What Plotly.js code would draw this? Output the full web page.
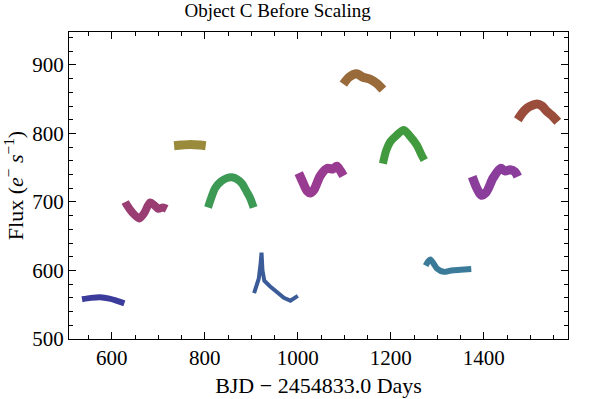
<!DOCTYPE html>
<html>
<head>
<meta charset="utf-8">
<script src="https://cdn.plot.ly/plotly-3.0.1.min.js"></script>
<style>
  html, body { margin: 0; padding: 0; background: #fff; }
  #flux-chart { width: 600px; height: 399px; }
</style>
</head>
<body>
<div id="flux-chart"></div>
<script>
// Light curve segments (BJD - 2454833.0, flux e-/s)
var days1 = [536, 555, 575, 595, 610, 627];
var flux1 = [558, 560, 561, 559, 556, 552];

var days2 = [629, 632, 645, 659, 670, 682, 690, 700, 710, 718];
var flux2 = [700, 696, 684, 676, 684, 699, 696, 690, 692, 690];

var days3 = [734, 750, 770, 790, 802];
var flux3 = [782, 783, 784, 783, 782];

var days4 = [807, 815, 822, 835, 848, 858, 870, 880, 890, 898, 905];
var flux4 = [692, 708, 720, 730, 735, 736, 733, 727, 715, 705, 692];

var days5 = [906, 912, 916, 920, 922, 924, 928, 940, 955, 970, 984, 1000];
var flux5 = [567, 578, 588, 610, 626, 600, 585, 577, 568, 560, 556, 563];

var days6 = [1002, 1010, 1020, 1027, 1035, 1048, 1063, 1075, 1084, 1092, 1098];
var flux6 = [742, 730, 716, 713, 718, 738, 749, 748, 752, 745, 738];

var days7 = [1098, 1110, 1127, 1140, 1156, 1170, 1183];
var flux7 = [872, 882, 887, 882, 879, 873, 864];

var days8 = [1183, 1190, 1199, 1212, 1228, 1240, 1256, 1265, 1272];
var flux8 = [756, 775, 788, 797, 805, 797, 783, 770, 761];

var days9 = [1275, 1280, 1285, 1292, 1299, 1314, 1330, 1350, 1373];
var flux9 = [607, 613, 616, 610, 603, 598, 600, 601, 602];

var days10 = [1375, 1385, 1394, 1405, 1420, 1436, 1446, 1457, 1467, 1473];
var flux10 = [737, 720, 710, 714, 735, 749, 745, 747, 744, 737];

var days11 = [1473, 1483, 1493, 1504, 1514, 1525, 1536, 1548, 1559];
var flux11 = [820, 830, 837, 841, 843, 840, 832, 825, 817];

var xTicks = [600, 800, 1000, 1200, 1400];
var yTicks = [500, 600, 700, 800, 900];

// one entry per segment: data, colour, band thickness in px
var segments = [
    { x: days1, y: flux1, color: '#3b3b9b', width: 6 },
    { x: days2, y: flux2, color: '#993d73', width: 8 },
    { x: days3, y: flux3, color: '#998b3b', width: 9 },
    { x: days4, y: flux4, color: '#3d9a55', width: 8 },
    { x: days5, y: flux5, color: '#3b5c99', width: 4, shape: 'linear' },
    { x: days6, y: flux6, color: '#993b91', width: 9 },
    { x: days7, y: flux7, color: '#996b3b', width: 9 },
    { x: days8, y: flux8, color: '#429a3e', width: 8 },
    { x: days9, y: flux9, color: '#3b7b99', width: 6 },
    { x: days10, y: flux10, color: '#8b3d9b', width: 9 },
    { x: days11, y: flux11, color: '#9a4d3b', width: 9 }
];

var data = segments.map(function (s) {
    return {
        x: s.x,
        y: s.y,
        type: 'scatter',
        mode: 'lines',
        line: { color: s.color, width: s.width, shape: s.shape || 'spline', smoothing: 0.8 },
        hoverinfo: 'x+y',
        showlegend: false
    };
});

var serif = '"Liberation Serif", "Times New Roman", serif';

var axisCommon = {
    showgrid: false,
    zeroline: false,
    showline: true,
    linecolor: '#000',
    linewidth: 1,
    mirror: 'allticks',
    ticks: 'inside',
    ticklen: 7,
    tickwidth: 1,
    tickcolor: '#000',
    tickfont: { family: serif, size: 21, color: '#000' }
};

var layout = {
    width: 600,
    height: 399,
    margin: { l: 69, r: 32, t: 32, b: 60 },
    paper_bgcolor: '#fff',
    plot_bgcolor: '#fff',
    title: {
        text: 'Object C Before Scaling',
        font: { family: serif, size: 19, color: '#000' },
        xref: 'paper',
        x: 0.418,
        xanchor: 'center',
        yref: 'container',
        y: 0.99,
        yanchor: 'top'
    },
    xaxis: Object.assign({}, axisCommon, {
        range: [508, 1581],
        tickvals: xTicks,
        minor: { dtick: 50, tick0: 0, ticks: 'inside', ticklen: 4, tickcolor: '#000', tickwidth: 1 },
        title: { text: 'BJD \u2212 2454833.0 Days', font: { family: serif, size: 22, color: '#000' }, standoff: 8 }
    }),
    yaxis: Object.assign({}, axisCommon, {
        range: [500, 948],
        tickvals: yTicks,
        minor: { dtick: 20, tick0: 0, ticks: 'inside', ticklen: 4, tickcolor: '#000', tickwidth: 1 },
        title: { text: 'Flux (<i>e</i><sup>\u2212</sup> <i>s</i><sup>\u22121</sup>)', font: { family: serif, size: 22, color: '#000' }, standoff: 6 }
    })
};

Plotly.newPlot('flux-chart', data, layout, { displayModeBar: false, staticPlot: true });
</script>
</body>
</html>
